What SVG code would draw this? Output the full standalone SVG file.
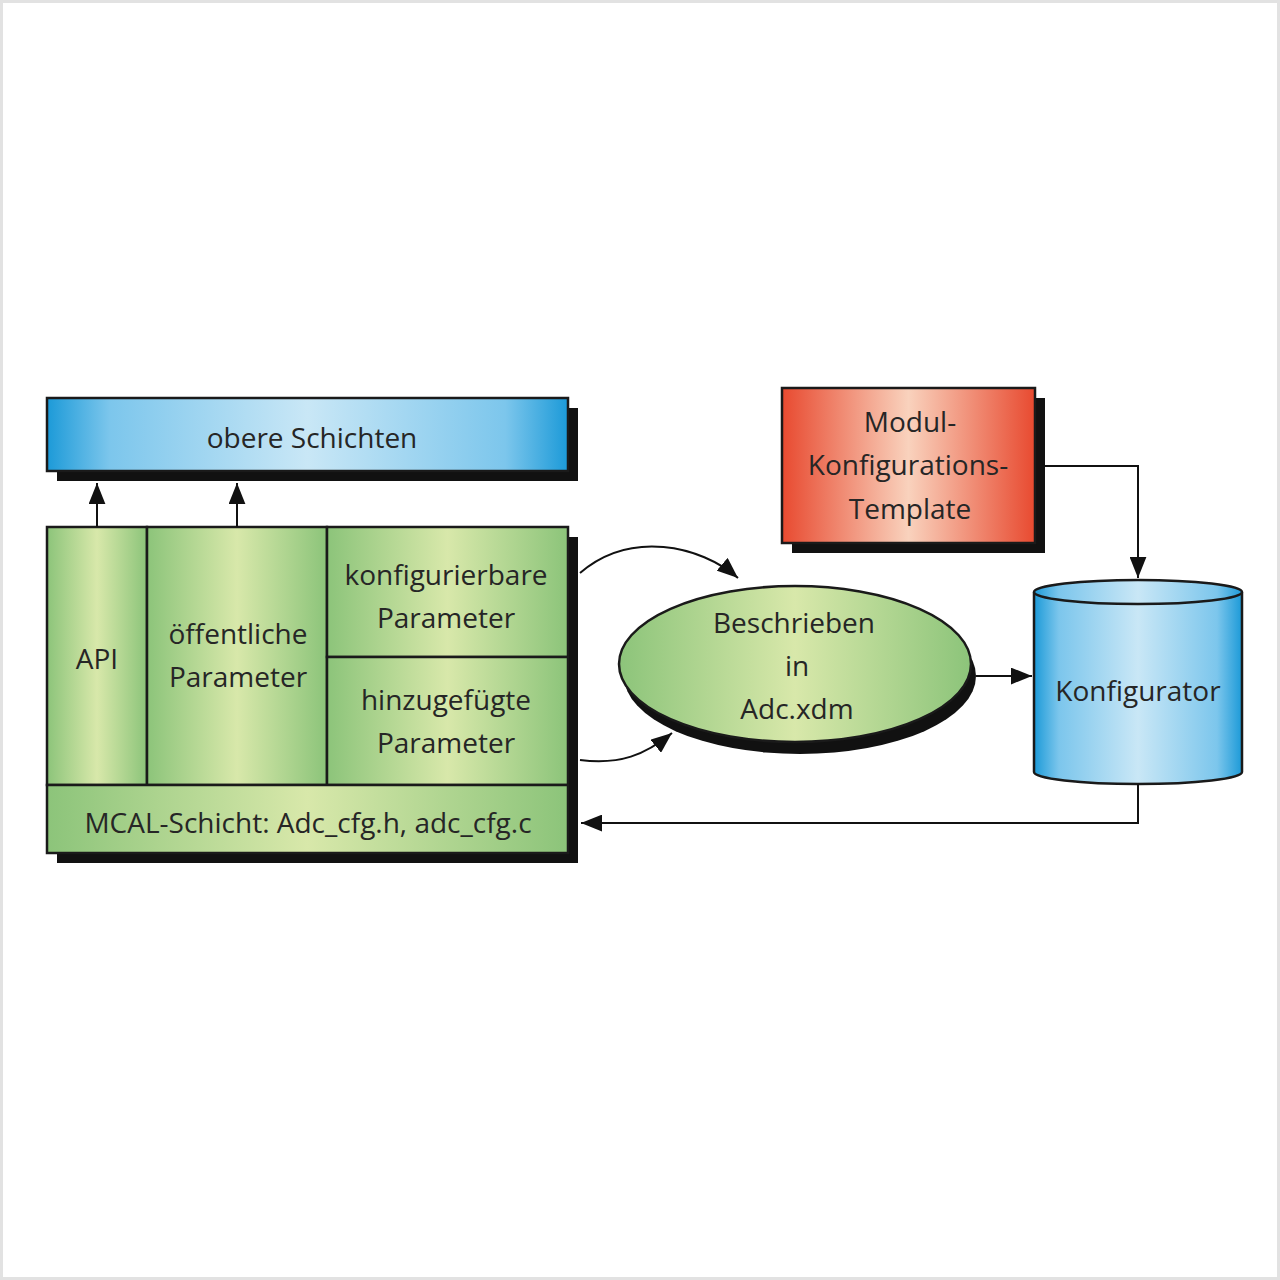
<svg xmlns="http://www.w3.org/2000/svg" width="1280" height="1280" viewBox="0 0 1280 1280">
<defs>
<linearGradient id="gBlue" x1="0" y1="0" x2="1" y2="0">
<stop offset="0" stop-color="#1c9ad8"/><stop offset="0.12" stop-color="#7cc6ec"/><stop offset="0.5" stop-color="#c9e7f6"/><stop offset="0.88" stop-color="#7cc6ec"/><stop offset="1" stop-color="#1c9ad8"/>
</linearGradient>
<linearGradient id="gGreen" x1="0" y1="0" x2="1" y2="0">
<stop offset="0" stop-color="#8cc47a"/><stop offset="0.5" stop-color="#d8e8aa"/><stop offset="1" stop-color="#8cc47a"/>
</linearGradient>
<linearGradient id="gRed" x1="0" y1="0" x2="1" y2="0">
<stop offset="0" stop-color="#e84a30"/><stop offset="0.5" stop-color="#f9d2bd"/><stop offset="1" stop-color="#e84a30"/>
</linearGradient>
<marker id="arrL" viewBox="0 0 20 16" refX="20" refY="8" markerWidth="21" markerHeight="17" markerUnits="userSpaceOnUse" orient="auto">
<path d="M0,0 L20,8 L0,16 z" fill="#111"/>
</marker>
</defs>
<style>
.t{font-family:"Open Sans","Liberation Sans",sans-serif;font-size:28px;fill:#262626;text-anchor:middle}
.b{stroke:#1a1a1a;stroke-width:2.5}
.sh{fill:#111}
.c{fill:none;stroke:#111;stroke-width:2}
</style>
<rect x="1.5" y="1.5" width="1277" height="1277" fill="#fff" stroke="#e2e2e2" stroke-width="3"/>

<g id="obere">
<rect class="sh" x="57" y="408" width="521" height="73"/>
<rect class="b" x="47" y="398" width="521" height="73" fill="url(#gBlue)"/>
<text class="t" x="312" y="448">obere Schichten</text>
</g>

<g id="mcal-block">
<rect class="sh" x="57" y="537" width="521" height="326"/>
<rect class="b" x="47" y="527" width="100" height="258" fill="url(#gGreen)"/>
<rect class="b" x="147" y="527" width="180" height="258" fill="url(#gGreen)"/>
<rect class="b" x="327" y="527" width="241" height="130" fill="url(#gGreen)"/>
<rect class="b" x="327" y="657" width="241" height="128" fill="url(#gGreen)"/>
<rect class="b" x="47" y="785" width="521" height="68" fill="url(#gGreen)"/>
</g>
<g id="api"><text class="t" x="97" y="669">API</text></g>
<g id="oeffentliche"><text class="t" x="238" y="644">öffentliche</text><text class="t" x="238" y="687">Parameter</text></g>
<g id="konfigurierbare"><text class="t" x="446" y="585">konfigurierbare</text><text class="t" x="446" y="628">Parameter</text></g>
<g id="hinzugefuegte"><text class="t" x="446" y="710">hinzugefügte</text><text class="t" x="446" y="753">Parameter</text></g>
<g id="mcal"><text class="t" x="308" y="833">MCAL-Schicht: Adc_cfg.h, adc_cfg.c</text></g>

<g id="beschrieben">
<ellipse class="sh" cx="800" cy="676" rx="176" ry="78"/>
<ellipse class="b" cx="795" cy="664" rx="176" ry="78" fill="url(#gGreen)"/>
<text class="t" x="794" y="633">Beschrieben</text>
<text class="t" x="797" y="676">in</text>
<text class="t" x="797" y="719">Adc.xdm</text>
</g>

<g id="template">
<rect class="sh" x="792" y="398" width="253" height="155"/>
<rect class="b" x="782" y="388" width="253" height="155" fill="url(#gRed)"/>
<text class="t" x="910" y="432">Modul-</text>
<text class="t" x="908" y="475">Konfigurations-</text>
<text class="t" x="910" y="519">Template</text>
</g>

<g id="konfigurator">
<path class="b" d="M1034,592 L1034,772 A104,12 0 0 0 1242,772 L1242,592" fill="url(#gBlue)"/>
<ellipse class="b" cx="1138" cy="592" rx="104" ry="12" fill="url(#gBlue)"/>
<text class="t" x="1138" y="701">Konfigurator</text>
</g>

<g id="connectors">
<line class="c" x1="97" y1="527" x2="97" y2="483" marker-end="url(#arrL)"/>
<line class="c" x1="237" y1="527" x2="237" y2="483" marker-end="url(#arrL)"/>
<path class="c" d="M580,573 C630,530 700,545 738,578" marker-end="url(#arrL)"/>
<path class="c" d="M580,760 C620,765 645,755 672,733" marker-end="url(#arrL)"/>
<line class="c" x1="976" y1="676" x2="1032" y2="676" marker-end="url(#arrL)"/>
<path class="c" d="M1045,466 L1138,466 L1138,578" marker-end="url(#arrL)"/>
<path class="c" d="M1138,784 L1138,823 L581,823" marker-end="url(#arrL)"/>
</g>
</svg>
